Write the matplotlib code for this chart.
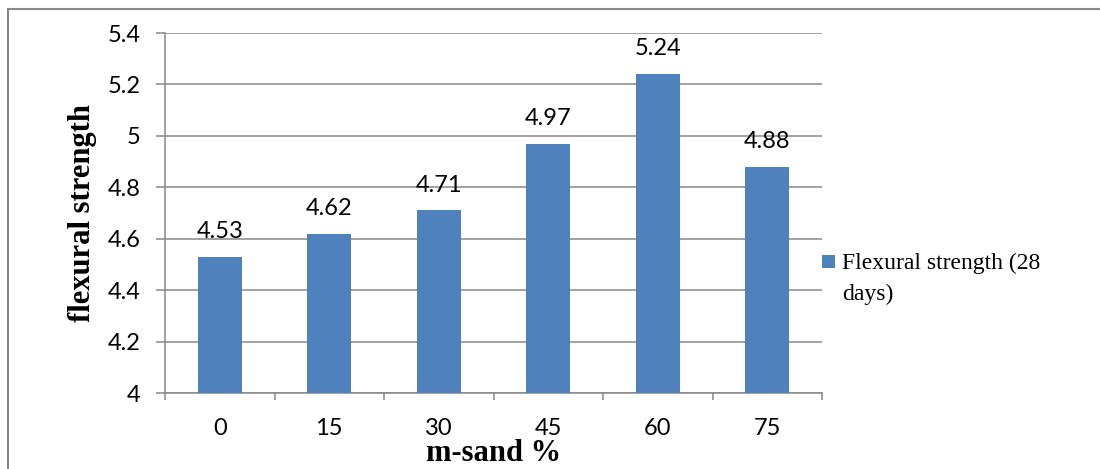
import matplotlib.pyplot as plt
from matplotlib.patches import Rectangle

# m-sand replacement levels and 28-day flexural strength
msand = ['0', '15', '30', '45', '60', '75']
strength = [4.53, 4.62, 4.71, 4.97, 5.24, 4.88]
yticks = [4, 4.2, 4.4, 4.6, 4.8, 5, 5.2, 5.4]
ytick_labels = ['4', '4.2', '4.4', '4.6', '4.8', '5', '5.2', '5.4']
series_lines = ['Flexural strength (28', 'days)']

blue = '#4F81BD'
grey = '#878787'
num_font = 'Lato'
serif = 'Liberation Serif'
W, H = 1100, 469

fig = plt.figure(figsize=(11, 4.69), dpi=100)
ax = fig.add_axes([165 / W, 76 / H, 657 / W, 360 / H])

x = range(len(msand))
bars = ax.bar(x, strength, width=0.4, color=blue, zorder=3)

# value labels above each bar
for xi, v in zip(x, strength):
    ax.annotate(f'{v:g}', (xi, v), xytext=(0, 13.5), textcoords='offset points',
                ha='center', va='baseline', fontsize=17, family=num_font)

ax.set_ylim(4, 5.4)
ax.set_xlim(-0.5, len(msand) - 0.5)
ax.set_yticks(yticks)
ax.set_yticklabels(ytick_labels, fontsize=17, family=num_font)
ax.set_xticks(list(x))
ax.set_xticklabels(msand, fontsize=17, family=num_font)
ax.set_xticks([i - 0.5 for i in range(len(msand) + 1)], minor=True)

ax.tick_params(axis='x', which='major', length=0, pad=18)
ax.tick_params(axis='x', which='minor', length=5, color=grey, width=1.1)
ax.tick_params(axis='y', length=6.5, color=grey, width=1.1, pad=11)

ax.grid(axis='y', color=grey, linewidth=1.1, zorder=0)
for side in ['top', 'right']:
    ax.spines[side].set_visible(False)
for side in ['left', 'bottom']:
    ax.spines[side].set_color(grey)
    ax.spines[side].set_linewidth(1.1)

ax.set_ylabel('flexural strength', family=serif, fontweight='bold',
              fontsize=22, labelpad=8)
ax.set_xlabel('m-sand %', family=serif, fontweight='bold', fontsize=22,
              labelpad=0)

# legend to the right of the plot: square key beside the first text line
fig.add_artist(Rectangle((822 / W, 1 - 268 / H), 13 / W, 13 / H,
                         transform=fig.transFigure, facecolor=blue,
                         edgecolor='none'))
for i, line in enumerate(series_lines):
    fig.text(842 / W, 1 - (269 + 31 * i) / H, line, family=serif,
             fontsize=17, ha='left', va='baseline')

# outer chart border
fig.add_artist(Rectangle((8 / W, -0.1), 1.2, (H - 9) / H + 0.1,
                         transform=fig.transFigure, fill=False,
                         edgecolor=grey, linewidth=1.5, clip_on=False))

fig.savefig('out.png', dpi=100)
